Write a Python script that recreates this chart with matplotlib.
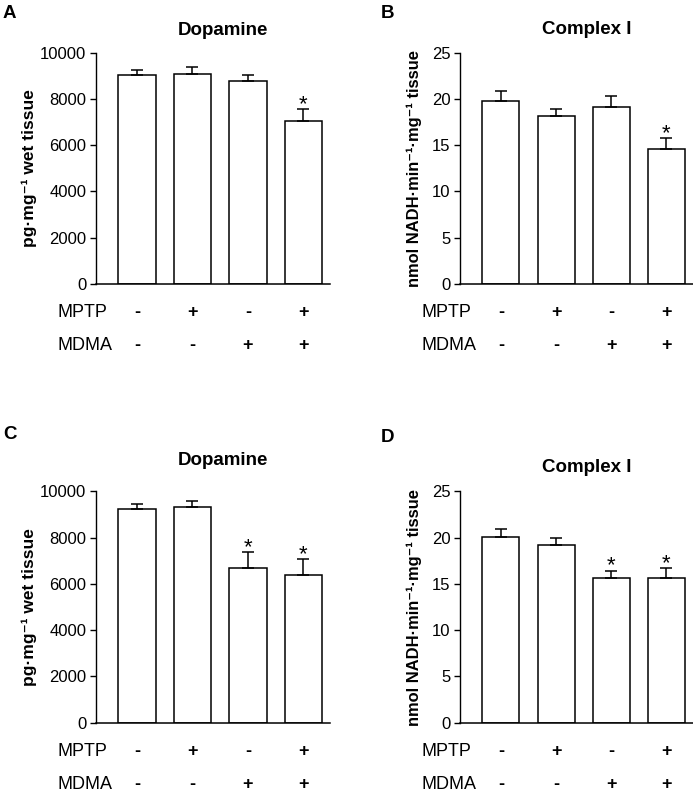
import matplotlib.pyplot as plt
import numpy as np

plt.rcParams['font.family'] = ['Liberation Sans', 'DejaVu Sans']

# treatment rows shown under each panel
mptp_signs = ['-', '+', '-', '+']
mdma_signs = ['-', '-', '+', '+']

# experiment 1 (panels A, B)
dopamine_1 = [9020, 9090, 8790, 7060]
dopamine_1_err = [230, 270, 260, 490]
complex_1 = [19.75, 18.2, 19.15, 14.6]
complex_1_err = [1.05, 0.7, 1.15, 1.15]
sig_1 = [False, False, False, True]

# experiment 2 (panels C, D)
dopamine_2 = [9240, 9320, 6680, 6380]
dopamine_2_err = [220, 245, 680, 690]
complex_2 = [20.1, 19.15, 15.65, 15.6]
complex_2_err = [0.82, 0.85, 0.75, 1.1]
sig_2 = [False, False, True, True]

dopamine_label = 'pg\u00b7mg\u207b\u00b9 wet tissue'
complex_label = 'nmol NADH\u00b7min\u207b\u00b9\u00b7mg\u207b\u00b9 tissue'

fig = plt.figure(figsize=(6.93, 7.97), dpi=100)


def panel(rect, vals, errs, sig, ymax, ystep, title, title_y, ylabel, ylabel_x,
          ylabel_size, letter, letter_xy):
    ax = fig.add_axes(rect)
    x = np.arange(len(vals))
    ax.bar(x, vals, width=0.67, color='white', edgecolor='black', linewidth=1.1, zorder=2)
    ax.errorbar(x, vals, yerr=[np.zeros(len(vals)), errs], fmt='none', ecolor='black',
                elinewidth=1.1, capsize=4.5, capthick=1.1, zorder=3)
    for xi, v, e, s in zip(x, vals, errs, sig):
        if s:
            ax.annotate('*', xy=(xi, v + e), xytext=(0, -4), textcoords='offset points',
                        ha='center', va='bottom', fontsize=16)
    ax.set_xlim(-0.74, 3.48)
    ax.set_ylim(0, ymax)
    ax.set_yticks(np.arange(0, ymax + ystep / 2, ystep))
    ax.set_xticks([])
    ax.spines['top'].set_visible(False)
    ax.spines['right'].set_visible(False)
    ax.spines['left'].set_linewidth(1.0)
    ax.spines['bottom'].set_linewidth(1.1)
    ax.tick_params(axis='y', direction='out', length=4, width=1.0, labelsize=12, pad=3)
    ax.set_ylabel(ylabel, fontsize=ylabel_size, fontweight='bold', va='center')
    ax.yaxis.set_label_coords(ylabel_x, 0.5)
    ax.text(1.55, title_y, title, transform=ax.get_xaxis_transform(),
            ha='center', va='center', fontsize=13.5, fontweight='bold')
    ax.text(-0.165, -0.125, 'MPTP', transform=ax.transAxes, ha='left', va='center', fontsize=13)
    ax.text(-0.165, -0.265, 'MDMA', transform=ax.transAxes, ha='left', va='center', fontsize=13)
    tr = ax.get_xaxis_transform()
    for xi, a, b in zip(x, mptp_signs, mdma_signs):
        ax.text(xi, -0.125, a, transform=tr, ha='center', va='center', fontsize=13, fontweight='bold')
        ax.text(xi, -0.265, b, transform=tr, ha='center', va='center', fontsize=13, fontweight='bold')
    fig.text(letter_xy[0], letter_xy[1], letter, ha='left', va='center', fontsize=13.5, fontweight='bold')
    return ax


top_b, bot_b, h = 0.6437, 0.0932, 0.2903
panel([0.1385, top_b, 0.3377, h], dopamine_1, dopamine_1_err, sig_1, 10000, 2000,
      'Dopamine', 1.095, dopamine_label, -0.285, 12.5, 'A', (0.004, 1 - 13 / 797))
panel([0.6638, top_b, 0.3362, h], complex_1, complex_1_err, sig_1, 25, 5,
      'Complex I', 1.10, complex_label, -0.197, 11.9, 'B', (0.549, 1 - 14 / 797))
panel([0.1385, bot_b, 0.3377, h], dopamine_2, dopamine_2_err, sig_2, 10000, 2000,
      'Dopamine', 1.135, dopamine_label, -0.285, 12.5, 'C', (0.004, 1 - 434 / 797))
panel([0.6638, bot_b, 0.3362, h], complex_2, complex_2_err, sig_2, 25, 5,
      'Complex I', 1.105, complex_label, -0.197, 11.9, 'D', (0.549, 1 - 437 / 797))

fig.savefig('out.png', dpi=100)
